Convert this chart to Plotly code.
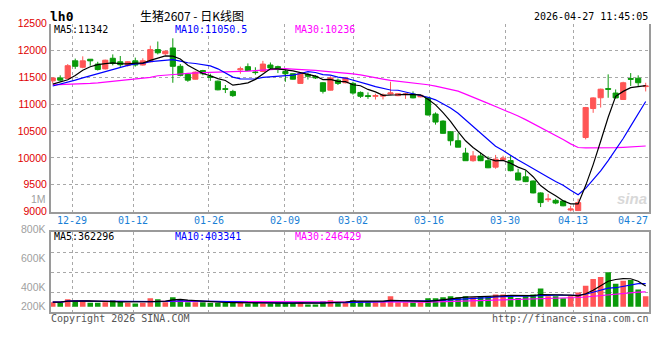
import plotly.graph_objects as go
import pandas as pd

# ---------------- data ----------------
dates = ['12-24','12-25','12-26','12-29','12-30','12-31','01-05','01-06','01-07','01-08','01-09',
         '01-12','01-13','01-14','01-15','01-16','01-19','01-20','01-21','01-22','01-23',
         '01-26','01-27','01-28','01-29','01-30','02-02','02-03','02-04','02-05','02-06',
         '02-09','02-10','02-11','02-12','02-13','02-24','02-25','02-26','02-27',
         '03-02','03-03','03-04','03-05','03-06','03-09','03-10','03-11','03-12','03-13',
         '03-16','03-17','03-18','03-19','03-20','03-23','03-24','03-25','03-26','03-27',
         '03-30','03-31','04-01','04-02','04-03','04-07','04-08','04-09','04-10',
         '04-13','04-14','04-15','04-16','04-17','04-20','04-21','04-22','04-23','04-24','04-27']

opens = [11436,11490,11480,11808,11688,11838,11748,11658,11856,11790,
         11724,11808,11730,11790,12018,11940,12048,11706,11556,11466,
         11628,11520,11430,11290,11238,11640,11700,11600,11610,11730,
         11700,11610,11568,11388,11556,11520,11400,11262,11448,11400,
         11388,11220,11160,11148,11150,11190,11160,11180,11190,11138,
         11118,10818,10686,10488,10320,10090,9948,10038,9948,9828,
         9966,9950,9720,9648,9570,9348,9222,9210,9198,9030,
         9018,10380,10920,11120,11290,11208,11088,11478,11484,11328]
highs = [11490,11538,11748,11850,11892,11838,11790,11830,11928,11898,
         11800,11868,11856,12090,12168,12000,12228,11748,11556,11610,
         11640,11568,11440,11358,11268,11700,11760,11688,11808,11778,
         11718,11646,11570,11598,11580,11540,11410,11520,11478,11500,
         11418,11238,11220,11196,11200,11418,11200,11208,11238,11170,
         11130,10848,10700,10500,10458,10188,10128,10098,10030,10056,
         10040,10040,9798,9768,9580,9360,9330,9240,9210,9108,
         9240,10950,11130,11290,11556,11275,11418,11580,11538,11400]
lows = [11388,11418,11480,11658,11670,11718,11628,11650,11724,11688,
        11700,11700,11720,11780,11928,11916,11400,11520,11418,11460,
        11538,11436,11260,11208,11136,11568,11620,11550,11598,11658,
        11580,11418,11460,11388,11460,11470,11200,11256,11358,11390,
        11178,11118,11100,11088,11090,11180,11150,11100,11110,11130,
        10790,10620,10450,10230,10200,9948,9930,9940,9810,9798,
        9950,9750,9580,9550,9340,9085,9180,9138,9100,9000,
        9010,10345,10840,10938,11120,11108,11080,11340,11340,11238]
closes = [11490,11448,11718,11706,11808,11808,11646,11820,11760,11736,
          11790,11730,11808,12018,11958,11988,11706,11538,11448,11598,
          11568,11500,11268,11278,11160,11660,11628,11590,11748,11676,
          11646,11568,11466,11580,11520,11490,11240,11490,11388,11490,
          11208,11148,11145,11160,11170,11210,11196,11190,11118,11166,
          10800,10668,10458,10320,10200,9948,10038,9948,9816,9978,
          9996,9762,9588,9558,9348,9168,9234,9160,9108,9048,
          9168,10938,11118,11280,11280,11118,11400,11466,11400,11340]

volumes = [78000,78000,129000,112000,106000,67000,67000,78000,112000,90000,
           67000,56000,67000,146000,129000,78000,162000,112000,78000,78000,
           78000,67000,67000,67000,67000,67000,56000,67000,56000,56000,
           67000,67000,67000,67000,39000,39000,95000,112000,78000,78000,
           112000,95000,95000,78000,95000,179000,78000,78000,78000,78000,
           146000,146000,162000,179000,162000,179000,162000,179000,179000,213000,
           213000,196000,151000,179000,213000,314000,179000,179000,146000,179000,
           246000,364000,482000,515000,599000,398000,448000,465000,297000,179000]

# moving-average values at the left edge (history before the window)
ma5_head = [11375, 11410, 11455, 11535]
ma10_head = [11340, 11372, 11410, 11450, 11492, 11530, 11568, 11610, 11655]
ma30_head = [11360, 11363, 11366, 11370, 11377, 11388, 11398, 11412, 11428, 11440,
             11452, 11466, 11480, 11500, 11530, 11545, 11553, 11563, 11575, 11586,
             11590, 11592, 11595, 11598, 11604, 11610, 11616, 11624, 11632]

price_ticks = [9000, 9500, 10000, 10500, 11000, 11500, 12000, 12500]
grid_dates = ['12-29', '01-12', '01-26', '02-09', '03-02', '03-16', '03-30', '04-13', '04-27']
vol_labels = ['800K', '600K', '400K', '200K']

header_ma = ['MA5:11342', 'MA10:11050.5', 'MA30:10236']
vol_ma = ['MA5:362296', 'MA10:403341', 'MA30:246429']

# ---------------- derived ----------------
W, H = 660, 360
RED, GREEN = '#ff5555', '#0a9a0a'
MA_COLORS = ['#000000', '#0000ff', '#ff00ff']
MONO = 'DejaVu Sans Mono'

x = list(range(len(dates)))
cs = pd.Series(closes, dtype=float)

def ma(series, n, head):
    m = series.rolling(n).mean().tolist()
    for k, v in enumerate(head):
        m[k] = v
    return m

ma5 = ma(cs, 5, ma5_head)
ma10 = ma(cs, 10, ma10_head)
ma30 = ma(cs, 30, ma30_head)

vs = pd.Series(volumes, dtype=float)
vma5 = vs.rolling(5, min_periods=1).mean().tolist()
vma10 = vs.rolling(10, min_periods=1).mean().tolist()
vma30 = vs.rolling(30, min_periods=1).mean().tolist()

vol_colors = [RED if c >= o else GREEN for o, c in zip(opens, closes)]

# chart geometry (pixels)
PL, PR = 50.7, 649.3
P_TOP, P_BOT = 18.3, 212.7
V_TOP, V_BOT = 234.0, 317.0
XR = [-0.27, 79.48]

def fx(px):
    return px / W

def fy(py):
    return 1 - py / H

def data_to_px(p):
    return PL + (p - XR[0]) / (XR[1] - XR[0]) * (PR - PL)

grid_idx = [dates.index(d) for d in grid_dates]
g0 = grid_idx[0]
grid_pos = [2.61 + (i - g0) * 1.0115 for i in grid_idx]

vol_min, vol_max = -100800, 1293600

fig = go.Figure()

fig.add_trace(go.Candlestick(
    x=x, open=opens, high=highs, low=lows, close=closes,
    increasing=dict(line=dict(color=RED, width=1), fillcolor=RED),
    decreasing=dict(line=dict(color=GREEN, width=1), fillcolor=GREEN),
    whiskerwidth=0, hoverinfo='skip', xaxis='x', yaxis='y'))

for m, col in zip([ma30, ma10, ma5], MA_COLORS[::-1]):
    fig.add_trace(go.Scatter(x=x, y=m, mode='lines', line=dict(color=col, width=1.2),
                             hoverinfo='skip', xaxis='x', yaxis='y'))

fig.add_trace(go.Bar(x=x, y=volumes, marker=dict(color=vol_colors, line=dict(width=0)),
                     width=0.74, hoverinfo='skip', xaxis='x2', yaxis='y2'))
for m, col in zip([vma30, vma10, vma5], MA_COLORS[::-1]):
    fig.add_trace(go.Scatter(x=x, y=m, mode='lines', line=dict(color=col, width=1.2),
                             hoverinfo='skip', xaxis='x2', yaxis='y2'))

GRID = dict(showgrid=True, gridcolor='#a8a8a8', griddash='dot', gridwidth=1, zeroline=False)
BORDER = dict(showline=True, linecolor='#9a9a9a', linewidth=1.5)

fig.update_layout(
    width=W, height=H, margin=dict(l=0, r=0, t=0, b=0),
    paper_bgcolor='white', plot_bgcolor='white', showlegend=False,
    boxgap=0.3, boxgroupgap=0.02,
    xaxis=dict(domain=[fx(PL), fx(PR)], range=XR, tickvals=grid_pos, showticklabels=False,
               ticks='', rangeslider=dict(visible=False), anchor='y', **GRID, **BORDER),
    yaxis=dict(domain=[fy(P_BOT), fy(P_TOP)], range=[9000, 12500], tickvals=price_ticks,
               ticktext=[str(v) for v in price_ticks],
               tickfont=dict(family='Liberation Sans', size=10.5, color='#e00000'),
               ticks='', mirror=True, anchor='x', **GRID, **BORDER),
    xaxis2=dict(domain=[fx(PL), fx(PR)], range=XR, tickvals=grid_pos, showticklabels=False,
                ticks='', mirror=True, anchor='y2', **GRID, **BORDER),
    yaxis2=dict(domain=[fy(V_BOT), fy(V_TOP)], range=[vol_min, vol_max], tick0=vol_min,
                dtick=(vol_max - vol_min) / 4, showticklabels=False, ticks='', mirror=True,
                anchor='x2', **GRID, **BORDER),
)

ann = []
def text(t, px, py, color='#000', size=10, family=MONO, xanchor='left', **kw):
    ann.append(dict(text=t, x=fx(px), y=fy(py), xref='paper', yref='paper', showarrow=False,
                    xanchor=xanchor, yanchor='middle', borderpad=0,
                    font=dict(family=family, size=size, color=color), **kw))

# header
text('<b>lh0</b>', 49, 10.5, size=13)
text('生猪2607 - 日K线图', 139, 10, size=12, family='Noto Sans CJK SC')
text('2026-04-27 11:45:05', 649, 11, xanchor='right')

# MA legends
for t, col, px in zip(header_ma, MA_COLORS, [53, 174, 294]):
    text(t, px, 24, color=col)
for t, col, px in zip(vol_ma, MA_COLORS, [53, 174, 294]):
    text(t, px, 238.5, color=col)

# date labels under the price chart
for d, p in zip(grid_dates, grid_pos):
    last = d == grid_dates[-1]
    text(d, data_to_px(p), 221.7, color='#1a7fd6',
         xanchor='right' if last else 'center')

# volume axis labels and leftover label
text('1M', 47, 200, color='#a0a0a0', size=10.5, family='Liberation Sans', xanchor='right')
for t, py in zip(vol_labels, [231, 261, 290.5, 310.5]):
    text(t, 47, py, color='#a0a0a0', size=10.5, family='Liberation Sans', xanchor='right')

# footer
text('Copyright 2026 SINA.COM', 49.5, 323.7, color='#555')
text('http://finance.sina.com.cn', 649.5, 323.7, color='#555', xanchor='right')

# watermark
text('<b><i>sina</i></b>', 648, 199, color='#d8d8d8', size=15, family='Liberation Sans', xanchor='right')

fig.update_layout(annotations=ann)
fig.write_html('out.html', config={'displayModeBar': False},
               post_script="document.body.style.margin='0';document.body.style.overflow='hidden';")
